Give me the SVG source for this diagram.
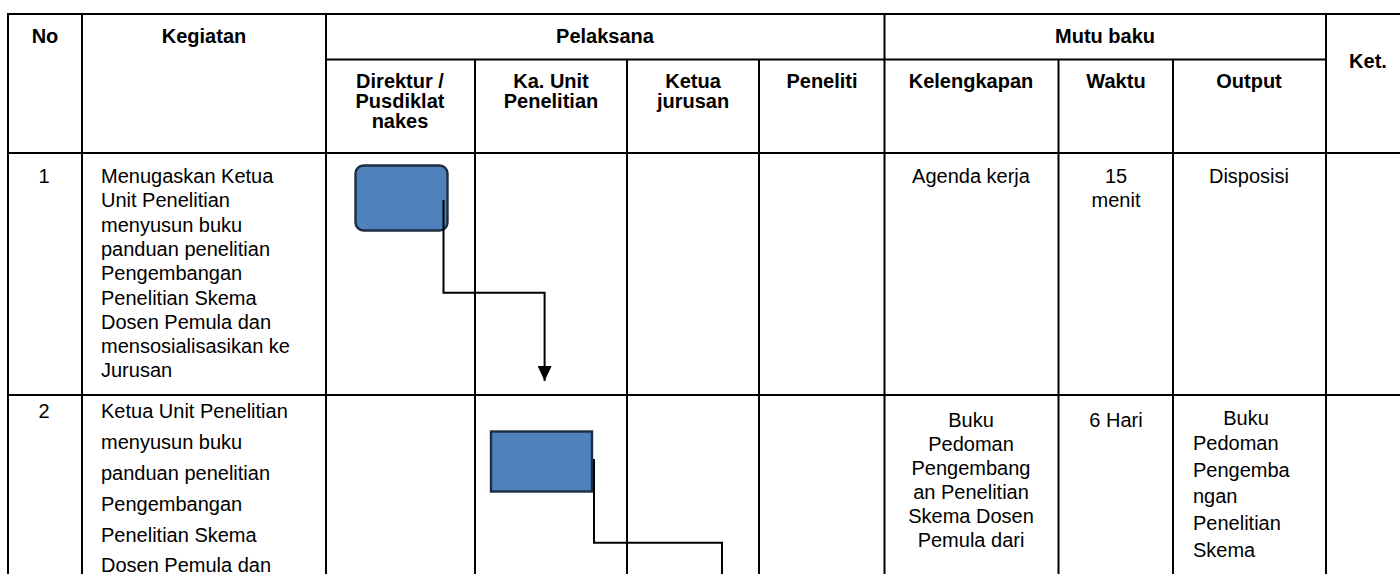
<svg xmlns="http://www.w3.org/2000/svg" width="1400" height="574" viewBox="0 0 1400 574">
<style>
.grid line{stroke:#000;stroke-width:2}
.h{font-family:"Liberation Sans",Arial,sans-serif;font-size:20px;font-weight:bold;fill:#000}
.t{font-family:"Liberation Sans",Arial,sans-serif;font-size:20px;fill:#000}
.c{text-anchor:middle}
.box{fill:#4f81bd;stroke:#1f2d40;stroke-width:2.4}
.conn{fill:none;stroke:#000;stroke-width:2}
</style>
<defs>
<marker id="arrow" markerWidth="14" markerHeight="16" refX="7" refY="15" orient="0" markerUnits="userSpaceOnUse" viewBox="0 0 14 16">
<path d="M0,0 L14,0 L7,15 Z" fill="#000"/>
</marker>
<filter id="soft" x="-10%" y="-10%" width="120%" height="120%">
<feGaussianBlur stdDeviation="0.6"/>
</filter>
</defs>
<rect width="1400" height="574" fill="#fff"/>
<g class="grid" id="table">
<line x1="7" y1="14" x2="1410" y2="14"/>
<line x1="326" y1="59.5" x2="1326" y2="59.5"/>
<line x1="7" y1="153" x2="1410" y2="153"/>
<line x1="7" y1="395" x2="1410" y2="395"/>
<line x1="8" y1="13" x2="8" y2="574"/>
<line x1="82" y1="13" x2="82" y2="574"/>
<line x1="326" y1="13" x2="326" y2="574"/>
<line x1="475" y1="59" x2="475" y2="574"/>
<line x1="627" y1="59" x2="627" y2="574"/>
<line x1="759" y1="59" x2="759" y2="574"/>
<line x1="884.5" y1="13" x2="884.5" y2="574"/>
<line x1="1058.5" y1="59" x2="1058.5" y2="574"/>
<line x1="1173" y1="59" x2="1173" y2="574"/>
<line x1="1326" y1="13" x2="1326" y2="574"/>
</g>
<g id="header">
<text class="h c" x="45" y="43">No</text>
<text class="h c" x="204" y="43">Kegiatan</text>
<text class="h c" x="605" y="43">Pelaksana</text>
<text class="h c" x="1105" y="43">Mutu baku</text>
<text class="h c" x="1368" y="68">Ket.</text>
<text class="h c" x="400" y="88">Direktur /</text>
<text class="h c" x="400" y="108">Pusdiklat</text>
<text class="h c" x="400" y="128">nakes</text>
<text class="h c" x="551" y="88">Ka. Unit</text>
<text class="h c" x="551" y="108">Penelitian</text>
<text class="h c" x="693" y="88">Ketua</text>
<text class="h c" x="693" y="108">jurusan</text>
<text class="h c" x="822" y="88">Peneliti</text>
<text class="h c" x="971" y="88">Kelengkapan</text>
<text class="h c" x="1116" y="88">Waktu</text>
<text class="h c" x="1249" y="88">Output</text>
</g>
<g id="row1">
<text class="t c" x="44" y="183">1</text>
<text class="t" x="101" y="183">Menugaskan Ketua</text>
<text class="t" x="101" y="207.3">Unit Penelitian</text>
<text class="t" x="101" y="231.6">menyusun buku</text>
<text class="t" x="101" y="255.9">panduan penelitian</text>
<text class="t" x="101" y="280.2">Pengembangan</text>
<text class="t" x="101" y="304.5">Penelitian Skema</text>
<text class="t" x="101" y="328.8">Dosen Pemula dan</text>
<text class="t" x="101" y="353.1">mensosialisasikan ke</text>
<text class="t" x="101" y="377.4">Jurusan</text>
<text class="t c" x="971" y="183">Agenda kerja</text>
<text class="t c" x="1116" y="183">15</text>
<text class="t c" x="1116" y="207">menit</text>
<text class="t c" x="1249" y="183">Disposisi</text>
</g>
<g id="row2">
<text class="t c" x="44" y="418">2</text>
<text class="t" x="101" y="418">Ketua Unit Penelitian</text>
<text class="t" x="101" y="449">menyusun buku</text>
<text class="t" x="101" y="480">panduan penelitian</text>
<text class="t" x="101" y="511">Pengembangan</text>
<text class="t" x="101" y="542">Penelitian Skema</text>
<text class="t" x="101" y="572">Dosen Pemula dan</text>
<text class="t c" x="971" y="427">Buku</text>
<text class="t c" x="971" y="451">Pedoman</text>
<text class="t c" x="971" y="475">Pengembang</text>
<text class="t c" x="971" y="499">an Penelitian</text>
<text class="t c" x="971" y="523">Skema Dosen</text>
<text class="t c" x="971" y="547">Pemula dari</text>
<text class="t c" x="1116" y="427">6 Hari</text>
<text class="t c" x="1246" y="425">Buku</text>
<text class="t" x="1193" y="450">Pedoman</text>
<text class="t" x="1193" y="477">Pengemba</text>
<text class="t" x="1193" y="503">ngan</text>
<text class="t" x="1193" y="530">Penelitian</text>
<text class="t" x="1193" y="557">Skema</text>
</g>
<g id="node1">
<rect class="box" x="355.5" y="165.5" width="92" height="65" rx="8" ry="8" filter="url(#soft)"/>
</g>
<g id="node2">
<rect class="box" x="491" y="431.5" width="101" height="60" filter="url(#soft)"/>
</g>
<g id="connectors">
<path class="conn" d="M443.5,200 V292.7 H544.6 V381" marker-end="url(#arrow)"/>
<path class="conn" d="M594,459 V542.7 H722 V576"/>
</g>
</svg>
